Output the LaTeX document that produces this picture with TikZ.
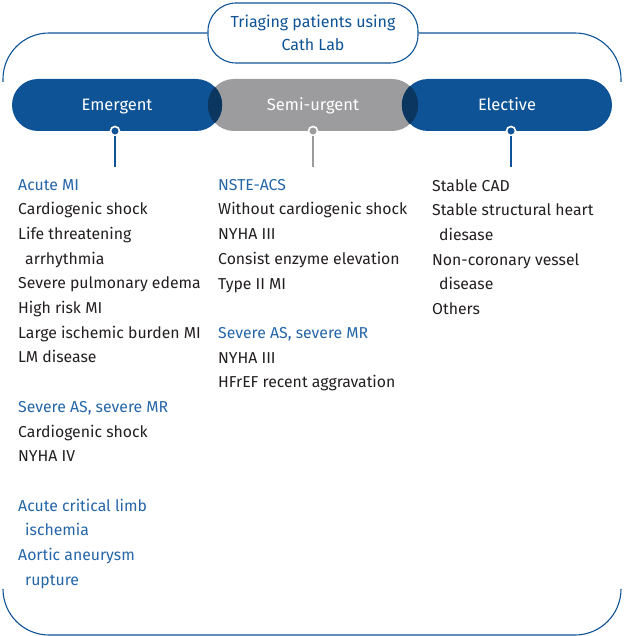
\documentclass[tikz,border=0pt]{standalone}
\usepackage{fontspec}
\setmainfont{Fira Sans}
\usepackage{tikz}
\usetikzlibrary{shapes.geometric, arrows, shapes, positioning, backgrounds, calc}
\usepackage{xcolor}
\definecolor{cathblue}{HTML}{0E5396}
\definecolor{cathnavy}{HTML}{0A365F}
\definecolor{cathgrey}{HTML}{9C9B9D}
\definecolor{headblue}{HTML}{2566A8}
\definecolor{bodyblack}{HTML}{231F20}
\tikzstyle{pill} = [rectangle, rounded corners = 26pt, minimum width = 210pt, minimum height = 52pt, text centered, draw = none, fill = cathblue, text = white, text height = 11pt, text depth = 0pt, font = \fontsize{16.5}{20}\selectfont]
\tikzstyle{knob} = [circle, minimum size = 9pt, inner sep = 0pt, draw = white, line width = 1.6pt, fill = cathblue]
\tikzstyle{frame} = [draw = cathblue, line width = 1.1pt, rounded corners = 46pt]
\tikzstyle{column} = [anchor = north west, inner sep = 0pt, align = left, text = bodyblack, font = \fontsize{15.8}{24.7}\selectfont]

\begin{document}
\begin{tikzpicture}[x = 1pt, y = -1pt]
\useasboundingbox (0,0) rectangle (624,636);

% outer frame
\node (title) at (313,33) [rectangle, rounded corners = 28pt, minimum width = 210pt, minimum height = 60pt, draw = cathblue, line width = 1.1pt, fill = white, text = cathblue, align = center, font = \fontsize{16}{23}\selectfont] {Triaging patients using\\Cath Lab};
\coordinate (tl) at (3,82);
\coordinate (tr) at (621,82);
\coordinate (bl) at (3,590);
\coordinate (br) at (621,590);
\coordinate (bm) at (313,635);
\draw[frame] (title.west) -| (tl);
\draw[frame] (title.east) -| (tr);
\draw[frame] (bl) |- (bm) -| (br);

% three pills
\node (semi) at (313,105) [pill, fill = cathgrey] {Semi-urgent};
\node (emg) at (117,105) [pill] {Emergent};
\node (elc) at (507,105) [pill] {Elective};
\begin{scope}
\clip[rounded corners = 26pt] (semi.south west) rectangle (semi.north east);
\fill[cathnavy, rounded corners = 26pt] (emg.south west) rectangle (emg.north east);
\fill[cathnavy, rounded corners = 26pt] (elc.south west) rectangle (elc.north east);
\end{scope}

% knobs and ticks
\node (kE) at (115,131) [knob] {};
\node (kS) at (313,131) [knob, fill = cathgrey] {};
\node (kL) at (511,131) [knob] {};
\coordinate (tE) at (115,167);
\coordinate (tS) at (313,167);
\coordinate (tL) at (511,167);
\draw[cathblue, line width = 1.2pt] (kE) -- (tE);
\draw[cathgrey, line width = 1.2pt] (kS) -- (tS);
\draw[cathblue, line width = 1.2pt] (kL) -- (tL);

% lists
\node (listE) at (18,179) [column] {\textcolor{headblue}{Acute MI}\\
Cardiogenic shock\\
Life threatening\\
\hspace*{7pt}arrhythmia\\
Severe pulmonary edema\\
High risk MI\\
Large ischemic burden MI\\
LM disease\\[24.7pt]
\textcolor{headblue}{Severe AS, severe MR}\\
Cardiogenic shock\\
NYHA IV\\[24.7pt]
\textcolor{headblue}{Acute critical limb}\\
\hspace*{7pt}\textcolor{headblue}{ischemia}\\
\textcolor{headblue}{Aortic aneurysm}\\
\hspace*{7pt}\textcolor{headblue}{rupture}};
\node (listS) at (218,179) [column] {\textcolor{headblue}{NSTE-ACS}\\
Without cardiogenic shock\\
NYHA III\\
Consist enzyme elevation\\
Type II MI\\[24.7pt]
\textcolor{headblue}{Severe AS, severe MR}\\
NYHA III\\
HFrEF recent aggravation};
\node (listL) at (432,179) [column] {Stable CAD\\
Stable structural heart\\
\hspace*{7pt}diesase\\
Non-coronary vessel\\
\hspace*{7pt}disease\\
Others};
\end{tikzpicture}
\end{document}
